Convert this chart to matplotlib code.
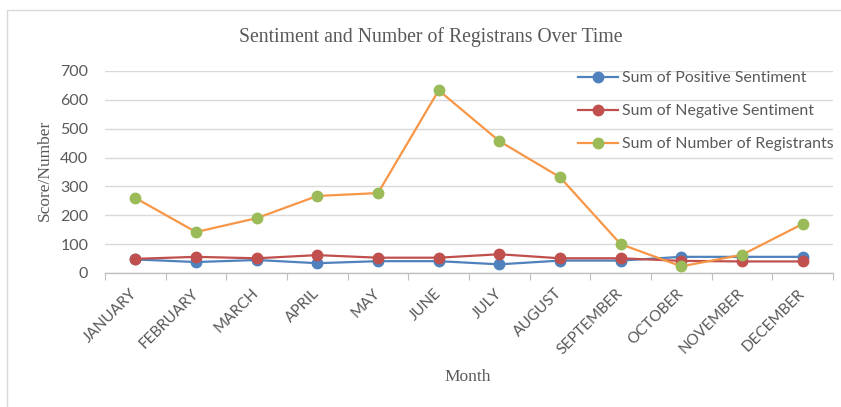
import matplotlib
matplotlib.use("Agg")
import matplotlib.pyplot as plt
from matplotlib.patches import Rectangle

months = ["JANUARY", "FEBRUARY", "MARCH", "APRIL", "MAY", "JUNE", "JULY",
          "AUGUST", "SEPTEMBER", "OCTOBER", "NOVEMBER", "DECEMBER"]
positive = [47, 38, 45, 34, 41, 41, 30, 43, 43, 56, 56, 56]
negative = [49, 56, 51, 62, 53, 53, 65, 51, 51, 42, 40, 40]
registrants = [260, 142, 190, 267, 277, 633, 457, 332, 100, 23, 63, 170]
yticks = [0, 100, 200, 300, 400, 500, 600, 700]

W, H = 841, 407
fig = plt.figure(figsize=(W / 100, H / 100), dpi=100)
fig.patch.set_facecolor("white")

# chart frame
fig.patches.append(Rectangle((7 / W, -0.1), 1.1, 1 - 10 / H + 0.1, transform=fig.transFigure,
                             fill=False, edgecolor="#D9D9D9", linewidth=1.0))

left, right = 105 / W, 833 / W
bottom, top = 1 - 273 / H, 1 - 71 / H
ax = fig.add_axes([left, bottom, right - left, top - bottom])

x = list(range(len(months)))
sans = "Lato"
serif = "Liberation Serif"
gray = "#595959"

ax.plot(x, positive, color="#4F81BD", lw=1.6, marker="o", ms=7.5,
        mfc="#4F81BD", mec="#4F81BD", label="Sum of Positive Sentiment", zorder=3)
ax.plot(x, negative, color="#C0504D", lw=1.6, marker="o", ms=7.5,
        mfc="#C0504D", mec="#C0504D", label="Sum of Negative Sentiment", zorder=4)
ax.plot(x, registrants, color="#F79646", lw=1.6, marker="o", ms=7.5,
        mfc="#9BBB59", mec="#9BBB59", label="Sum of Number of Registrants", zorder=5)

ax.set_xlim(-0.5, len(months) - 0.5)
ax.set_ylim(0, 700)
ax.set_yticks(yticks)
ax.set_yticklabels([str(v) for v in yticks], fontfamily=sans, fontsize=11.5, color=gray)
ax.tick_params(axis="y", length=0, pad=12)
ax.grid(axis="y", color="#D9D9D9", lw=1.0, zorder=0)
ax.set_axisbelow(True)

ax.set_xticks([i - 0.5 for i in range(len(months) + 1)], minor=False)
ax.set_xticklabels([""] * (len(months) + 1))
ax.tick_params(axis="x", which="major", length=5, color="#BFBFBF", direction="out")
ax.set_xticks(x, minor=True)
ax.set_xticklabels(months, minor=True, rotation=45, ha="right", va="center",
                   rotation_mode="anchor", fontfamily=sans, fontsize=11, color=gray)
ax.tick_params(axis="x", which="minor", length=0, pad=13)

for s in ["top", "right", "left"]:
    ax.spines[s].set_visible(False)
ax.spines["bottom"].set_color("#BFBFBF")
ax.spines["bottom"].set_linewidth(1.0)

fig.text(431 / W, 1 - 37 / H, "Sentiment and Number of Registrans Over Time",
         fontfamily=serif, fontsize=14.2, color=gray, ha="center", va="center")
fig.text(45 / W, 1 - 170 / H, "Score/Number", fontfamily=serif, fontsize=12.5,
         color=gray, ha="center", va="center", rotation=90)
fig.text(468 / W, 1 - 377 / H, "Month", fontfamily=serif, fontsize=12.5,
         color=gray, ha="center", va="center")

leg = ax.legend(loc="upper left", bbox_to_anchor=(578 / W, 1 - 71 / H),
                bbox_transform=fig.transFigure, frameon=False,
                prop={"family": sans, "size": 11.4}, labelcolor=gray,
                handlelength=2.5, handletextpad=0.3, labelspacing=1.2,
                borderaxespad=0, borderpad=0)

fig.savefig("out.png", dpi=100)
